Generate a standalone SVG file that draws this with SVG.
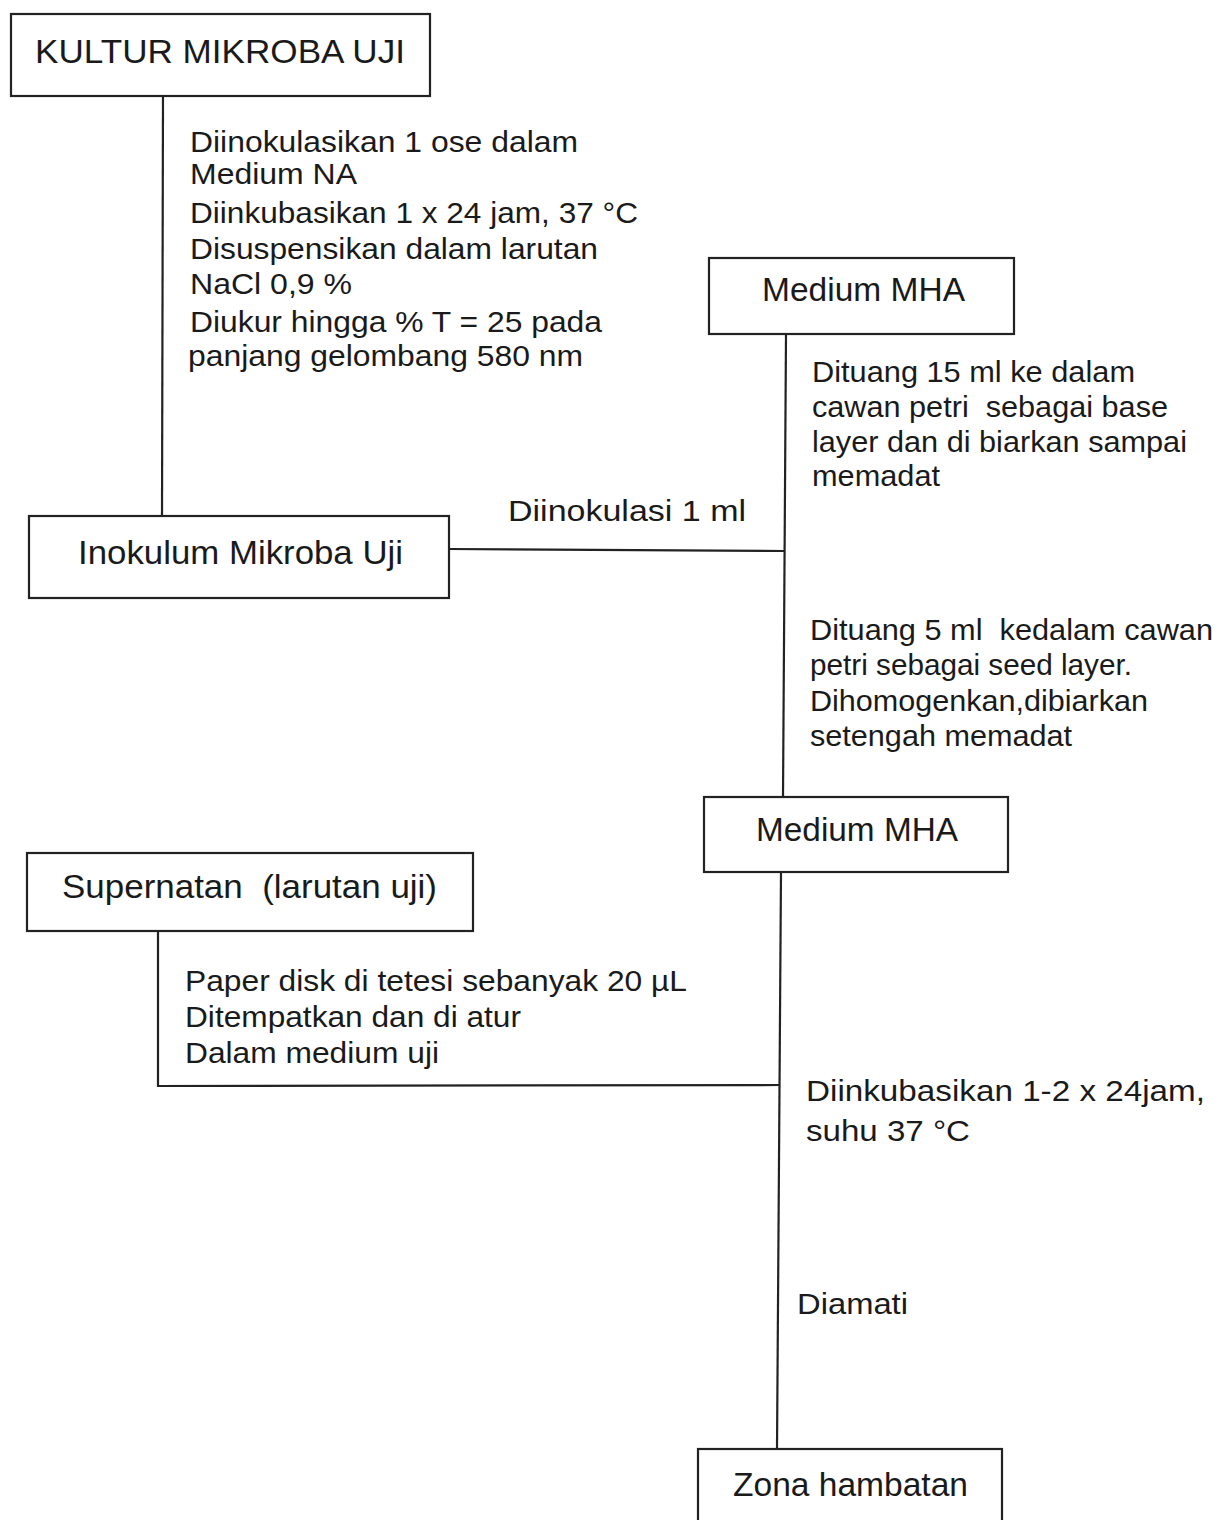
<svg xmlns="http://www.w3.org/2000/svg" width="1219" height="1520" viewBox="0 0 1219 1520">
<style>
.box{fill:#fff;stroke:#222;stroke-width:2.2}
.lbl{font-family:"Liberation Sans",Arial,sans-serif;font-size:33px;fill:#1a1a1a;white-space:pre}
.txt{font-family:"Liberation Sans",Arial,sans-serif;font-size:29px;fill:#1a1a1a;white-space:pre}
.con{stroke:#222;stroke-width:2.2;fill:none}
</style>
<rect width="1219" height="1520" fill="#fff"/>
<g id="connectors">
<line class="con" x1="163" y1="96" x2="162" y2="516"/>
<line class="con" x1="786" y1="334" x2="783" y2="797"/>
<line class="con" x1="449" y1="549" x2="785" y2="551"/>
<line class="con" x1="781" y1="872" x2="777" y2="1449"/>
<polyline class="con" points="158,931 158,1086 780,1085"/>
</g>
<g id="labels">
<text class="txt" x="190" y="152" textLength="388" lengthAdjust="spacingAndGlyphs">Diinokulasikan 1 ose dalam</text>
<text class="txt" x="190" y="184" textLength="167" lengthAdjust="spacingAndGlyphs">Medium NA</text>
<text class="txt" x="190" y="223" textLength="448" lengthAdjust="spacingAndGlyphs">Diinkubasikan 1 x 24 jam, 37 °C</text>
<text class="txt" x="190" y="259" textLength="408" lengthAdjust="spacingAndGlyphs">Disuspensikan dalam larutan</text>
<text class="txt" x="190" y="294" textLength="162" lengthAdjust="spacingAndGlyphs">NaCl 0,9 %</text>
<text class="txt" x="190" y="332" textLength="412" lengthAdjust="spacingAndGlyphs">Diukur hingga % T = 25 pada</text>
<text class="txt" x="188" y="366" textLength="395" lengthAdjust="spacingAndGlyphs">panjang gelombang 580 nm</text>
<text class="txt" x="812" y="382" textLength="323" lengthAdjust="spacingAndGlyphs">Dituang 15 ml ke dalam</text>
<text class="txt" x="812" y="417" textLength="356" lengthAdjust="spacingAndGlyphs">cawan petri  sebagai base</text>
<text class="txt" x="812" y="452" textLength="375" lengthAdjust="spacingAndGlyphs">layer dan di biarkan sampai</text>
<text class="txt" x="812" y="486" textLength="128" lengthAdjust="spacingAndGlyphs">memadat</text>
<text class="txt" x="508" y="521" textLength="238" lengthAdjust="spacingAndGlyphs">Diinokulasi 1 ml</text>
<text class="txt" x="810" y="640" textLength="403" lengthAdjust="spacingAndGlyphs">Dituang 5 ml  kedalam cawan</text>
<text class="txt" x="810" y="675" textLength="322" lengthAdjust="spacingAndGlyphs">petri sebagai seed layer.</text>
<text class="txt" x="810" y="711" textLength="338" lengthAdjust="spacingAndGlyphs">Dihomogenkan,dibiarkan</text>
<text class="txt" x="810" y="746" textLength="262" lengthAdjust="spacingAndGlyphs">setengah memadat</text>
<text class="txt" x="185" y="991" textLength="502" lengthAdjust="spacingAndGlyphs">Paper disk di tetesi sebanyak 20 µL</text>
<text class="txt" x="185" y="1027" textLength="336" lengthAdjust="spacingAndGlyphs">Ditempatkan dan di atur</text>
<text class="txt" x="185" y="1063" textLength="254" lengthAdjust="spacingAndGlyphs">Dalam medium uji</text>
<text class="txt" x="806" y="1101" textLength="399" lengthAdjust="spacingAndGlyphs">Diinkubasikan 1-2 x 24jam,</text>
<text class="txt" x="806" y="1141" textLength="164" lengthAdjust="spacingAndGlyphs">suhu 37 °C</text>
<text class="txt" x="797" y="1314" textLength="111" lengthAdjust="spacingAndGlyphs">Diamati</text>
</g>
<g id="kultur">
<rect class="box" x="11" y="14" width="419" height="82"/>
<text class="lbl" x="35" y="63" textLength="370" lengthAdjust="spacingAndGlyphs">KULTUR MIKROBA UJI</text>
</g>
<g id="mha1">
<rect class="box" x="709" y="258" width="305" height="76"/>
<text class="lbl" x="762" y="301" textLength="203" lengthAdjust="spacingAndGlyphs">Medium MHA</text>
</g>
<g id="inokulum">
<rect class="box" x="29" y="516" width="420" height="82"/>
<text class="lbl" x="78" y="564" textLength="325" lengthAdjust="spacingAndGlyphs">Inokulum Mikroba Uji</text>
</g>
<g id="mha2">
<rect class="box" x="704" y="797" width="304" height="75"/>
<text class="lbl" x="756" y="841" textLength="202" lengthAdjust="spacingAndGlyphs">Medium MHA</text>
</g>
<g id="supernatan">
<rect class="box" x="27" y="853" width="446" height="78"/>
<text class="lbl" x="62" y="898" textLength="375" lengthAdjust="spacingAndGlyphs">Supernatan  (larutan uji)</text>
</g>
<g id="zona">
<rect class="box" x="698" y="1449" width="304" height="85"/>
<text class="lbl" x="733" y="1496" textLength="235" lengthAdjust="spacingAndGlyphs">Zona hambatan</text>
</g>
</svg>
